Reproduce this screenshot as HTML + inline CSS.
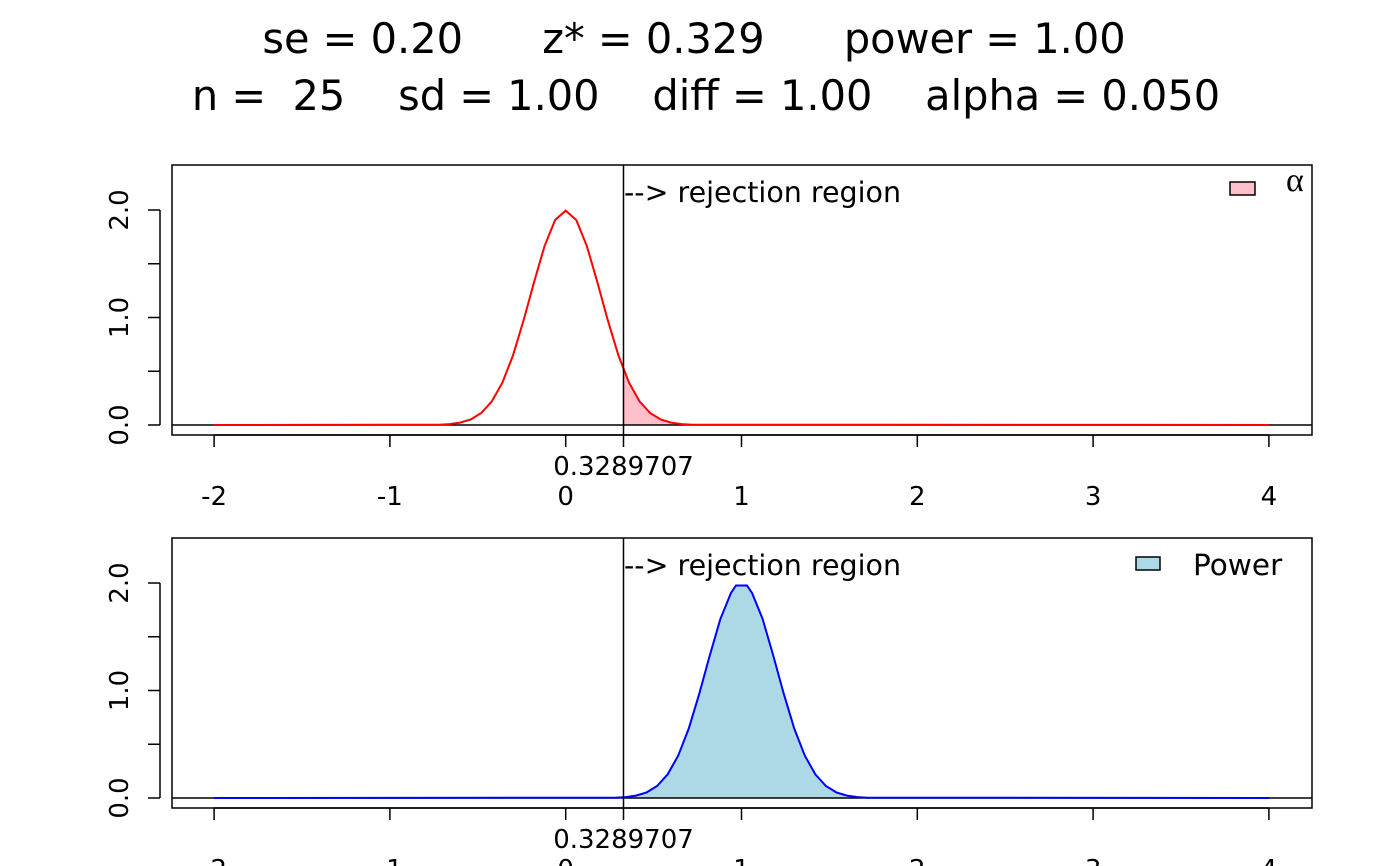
<!DOCTYPE html>
<html><head><meta charset="utf-8"><style>
html,body{margin:0;padding:0;background:#fff;width:1400px;height:866px;overflow:hidden}
svg text{font-family:"DejaVu Sans","Liberation Sans",sans-serif;fill:#000}
</style></head><body>
<svg width="1400" height="866" xmlns="http://www.w3.org/2000/svg">
<text x="694" y="53" font-size="41.5" text-anchor="middle" xml:space="preserve">se = 0.20      z* = 0.329      power = 1.00</text>
<text x="706" y="110" font-size="41.5" text-anchor="middle" xml:space="preserve">n =  25    sd = 1.00    diff = 1.00    alpha = 0.050</text>

<g stroke="#000" stroke-width="1.5" fill="none">
<polygon points="623.5,425 623.5,369.6 629.0,382.6 639.5,401.3 650.1,413.0 660.6,419.4 671.2,422.6 681.7,424.1 692.3,424.7 1269,425" fill="pink" stroke="none"/>
<rect x="172" y="165" width="1140" height="270"/>
<line x1="172" x2="1312" y1="425" y2="425"/>
<polyline stroke="red" stroke-width="2" points="214,425 439.1,424.7 449.7,424.1 460.2,422.6 470.8,419.4 481.3,413.0 491.9,401.3 502.4,382.6 513.0,355.4 523.5,320.6 534.1,282.0 544.6,245.9 555.15,220.0 565.7,210.6 576.25,220.0 586.8,245.9 597.3,282.0 607.9,320.6 618.4,355.4 629.0,382.6 639.5,401.3 650.1,413.0 660.6,419.4 671.2,422.6 681.7,424.1 692.3,424.7 1269,425"/>
<line x1="623.5" x2="623.5" y1="165" y2="435"/>
<line x1="214.1" x2="1268.9" y1="435" y2="435"/>
<path d="M214.1 435v12M389.9 435v12M565.7 435v12M741.5 435v12M917.3 435v12M1093.1 435v12M1268.9 435v12M623.5 435v12"/>
<line x1="160" x2="160" y1="425" y2="210"/>
<path d="M148 425h12M148 371.25h12M148 317.5h12M148 263.75h12M148 210h12"/>
<polygon points="623.5,798 623.5,797.2 625.5,797.1 636.0,795.6 646.6,792.4 657.1,786.0 667.7,774.3 678.2,755.6 688.8,728.4 699.3,693.6 709.9,655.0 720.4,618.9 730.95,593.0 736,585.5 747,585.5 752.05,593.0 762.6,618.9 773.1,655.0 783.7,693.6 794.2,728.4 804.8,755.6 815.3,774.3 825.9,786.0 836.4,792.4 847.0,795.6 857.5,797.1 868.1,797.7 1269,798" fill="lightblue" stroke="none"/>
<rect x="172" y="538" width="1140" height="270"/>
<line x1="172" x2="1312" y1="798" y2="798"/>
<polyline stroke="blue" stroke-width="2" points="214,798 614.9,797.7 625.5,797.1 636.0,795.6 646.6,792.4 657.1,786.0 667.7,774.3 678.2,755.6 688.8,728.4 699.3,693.6 709.9,655.0 720.4,618.9 730.95,593.0 736,585.5 747,585.5 752.05,593.0 762.6,618.9 773.1,655.0 783.7,693.6 794.2,728.4 804.8,755.6 815.3,774.3 825.9,786.0 836.4,792.4 847.0,795.6 857.5,797.1 868.1,797.7 1269,798"/>
<line x1="623.5" x2="623.5" y1="538" y2="808"/>
<line x1="214.1" x2="1268.9" y1="808" y2="808"/>
<path d="M214.1 808v12M389.9 808v12M565.7 808v12M741.5 808v12M917.3 808v12M1093.1 808v12M1268.9 808v12M623.5 808v12"/>
<line x1="160" x2="160" y1="798" y2="583"/>
<path d="M148 798h12M148 744.25h12M148 690.5h12M148 636.75h12M148 583h12"/>
</g>

<g font-size="26" text-anchor="middle">
<text x="214.1" y="505">-2</text><text x="389.9" y="505">-1</text><text x="565.7" y="505">0</text><text x="741.5" y="505">1</text><text x="917.3" y="505">2</text><text x="1093.1" y="505">3</text><text x="1268.9" y="505">4</text>
<text x="623.5" y="475">0.3289707</text>
<text x="214.1" y="878">-2</text><text x="389.9" y="878">-1</text><text x="565.7" y="878">0</text><text x="741.5" y="878">1</text><text x="917.3" y="878">2</text><text x="1093.1" y="878">3</text><text x="1268.9" y="878">4</text>
<text x="623.5" y="848">0.3289707</text>
<text transform="translate(128,425) rotate(-90)">0.0</text>
<text transform="translate(128,317.5) rotate(-90)">1.0</text>
<text transform="translate(128,210) rotate(-90)">2.0</text>
<text transform="translate(128,798) rotate(-90)">0.0</text>
<text transform="translate(128,690.5) rotate(-90)">1.0</text>
<text transform="translate(128,583) rotate(-90)">2.0</text>
</g>
<text x="624" y="202" font-size="28.5">--&gt; rejection region</text>
<text x="624" y="575" font-size="28.5">--&gt; rejection region</text>

<rect x="1230" y="182" width="25" height="13" fill="pink" stroke="#000" stroke-width="1.5"/>
<text x="1286" y="191" font-size="34" style="font-family:'Liberation Serif',serif">α</text>
<rect x="1136" y="557" width="24" height="13" fill="lightblue" stroke="#000" stroke-width="1.5"/>
<text x="1193" y="575" font-size="29.5">Power</text>
</svg>
</body></html>
